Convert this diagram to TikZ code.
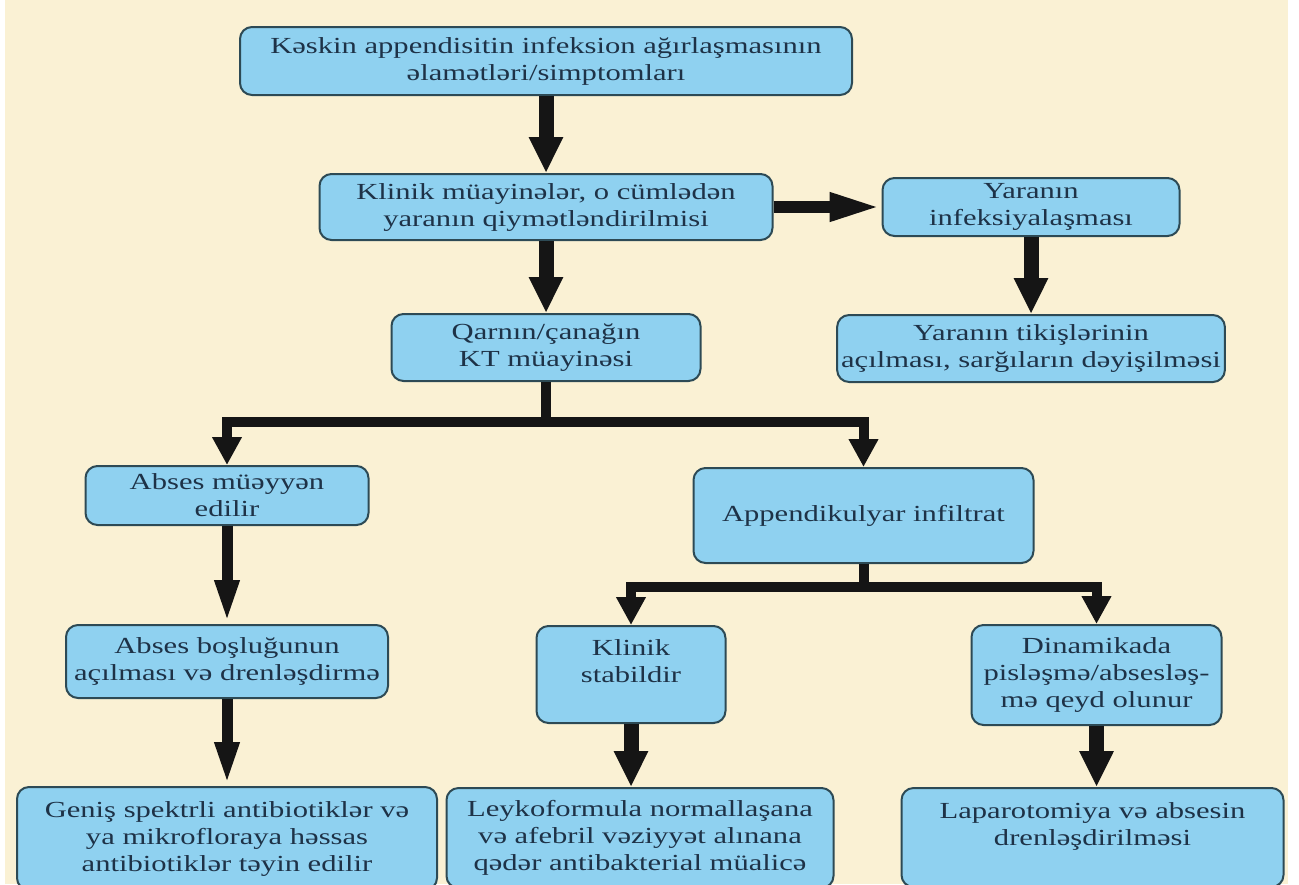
\documentclass[tikz,border=0pt]{standalone}
\usepackage{fontspec}
\setmainfont{Liberation Serif}[FakeStretch=1.33]
\usepackage{xcolor}
\usepackage{tikz}
\usetikzlibrary{arrows.meta, positioning, calc}
\definecolor{ckrem}{HTML}{FAF1D4}
\definecolor{cgoy}{HTML}{8FD1F0}
\definecolor{ckenar}{HTML}{2D4A55}
\definecolor{cyazi}{HTML}{1E3247}
\definecolor{cqara}{HTML}{151515}
\tikzset{
  qutu/.style={rectangle, rounded corners=6pt, draw=ckenar, fill=cgoy, line width=1pt,
               align=center, inner xsep=2pt, inner ysep=2pt, text=cyazi,
               font=\fontsize{11.5}{13.5}\selectfont},
  ox/.style={-{Triangle[width=16pt, length=18pt]}, line width=7.5pt, draw=cqara},
  oxince/.style={-{Triangle[width=11pt, length=22pt]}, line width=5.5pt, draw=cqara},
  oxsag/.style={-{Triangle[width=13pt, length=26pt]}, line width=6pt, draw=cqara},
  budaq/.style={line width=5pt, draw=cqara},
  budaqox/.style={-{Triangle[width=14pt, length=14pt]}, line width=5pt, draw=cqara},
}
\begin{document}
\begin{tikzpicture}[node distance=38.5pt and 54pt]
        \fill[white] (0,0) rectangle (649.5pt,-442pt);
        \fill[ckrem] (2.5pt,0) rectangle (644pt,-442pt);
        \useasboundingbox (0,0) rectangle (649.5pt,-442pt);

        \node[qutu, minimum width=306pt, minimum height=34pt] (kesk) at (273pt,-30.5pt) {Kəskin appendisitin infeksion ağırlaşmasının\\əlamətləri/simptomları};
        \node[qutu, minimum width=226.5pt, minimum height=33pt, below=of kesk] (klin) {Klinik müayinələr, o cümlədən\\yaranın qiymətləndirilmisi};
        \node[qutu, minimum width=148.5pt, minimum height=29pt, right=of klin] (yara) {Yaranın\\infeksiyalaşması};
        \node[qutu, minimum width=186pt, minimum height=33.5pt, below=of yara] (tikis) {Yaranın tikişlərinin\\açılması, sarğıların dəyişilməsi};
        \node[qutu, minimum width=154.5pt, minimum height=33.5pt, below=36pt of klin] (qarn) {Qarnın/çanağın\\KT müayinəsi};
        \node[qutu, minimum width=141.5pt, minimum height=29.5pt, below=41.5pt of qarn, xshift=-159.5pt] (abses) {Abses müəyyən\\edilir};
        \node[qutu, minimum width=170pt, minimum height=47.5pt, below=42.5pt of qarn, xshift=158.75pt] (infil) {Appendikulyar infiltrat};
        \node[qutu, minimum width=161pt, minimum height=36.5pt, below=49pt of abses] (bosl) {Abses boşluğunun\\açılması və drenləşdirmə};
        \node[qutu, minimum width=210pt, minimum height=51.5pt, below=43.5pt of bosl] (genis) {Geniş spektrli antibiotiklər və\\ya mikrofloraya həssas\\antibiotiklər təyin edilir};
        \node[qutu, minimum width=94.5pt, minimum height=48.5pt, below=30.5pt of infil, xshift=-116.25pt] (stab) {Klinik\\stabildir\\~};
        \node[qutu, minimum width=125pt, minimum height=50pt, below=30pt of infil, xshift=116.5pt] (dinam) {Dinamikada\\pisləşmə/absesləş-\\mə qeyd olunur};
        \node[qutu, minimum width=193.5pt, minimum height=50pt, below=31.5pt of stab, xshift=4.5pt] (leyko) {Leykoformula normallaşana\\və afebril vəziyyət alınana\\qədər antibakterial müalicə};
        \node[qutu, minimum width=191pt, minimum height=49.5pt, below=30.5pt of dinam, xshift=-2pt] (lapar) {Laparotomiya və absesin\\drenləşdirilməsi\\~};

        \draw[ox] (kesk) -- (klin);
        \draw[oxsag] (klin) -- (yara);
        \draw[ox] (yara) -- (tikis);
        \draw[ox] (klin) -- (qarn);
        \draw[budaq] (qarn.south) -- ++(0,-20pt) coordinate (qarnalt);
        \draw[budaqox] (qarnalt) -| (abses.north);
        \draw[budaqox] (qarnalt) -| (infil.north);
        \draw[oxince] (abses) -- (bosl);
        \draw[oxince] (bosl) -- (genis);
        \draw[budaq] (infil.south) -- ++(0,-11.5pt) coordinate (infilalt);
        \draw[budaqox] (infilalt) -| (stab.north);
        \draw[budaqox] (infilalt) -| (dinam.north);
        \draw[ox] (stab.south) -- (stab.south |- leyko.north);
        \draw[ox] (dinam.south) -- (dinam.south |- lapar.north);
    \end{tikzpicture}
\end{document}
